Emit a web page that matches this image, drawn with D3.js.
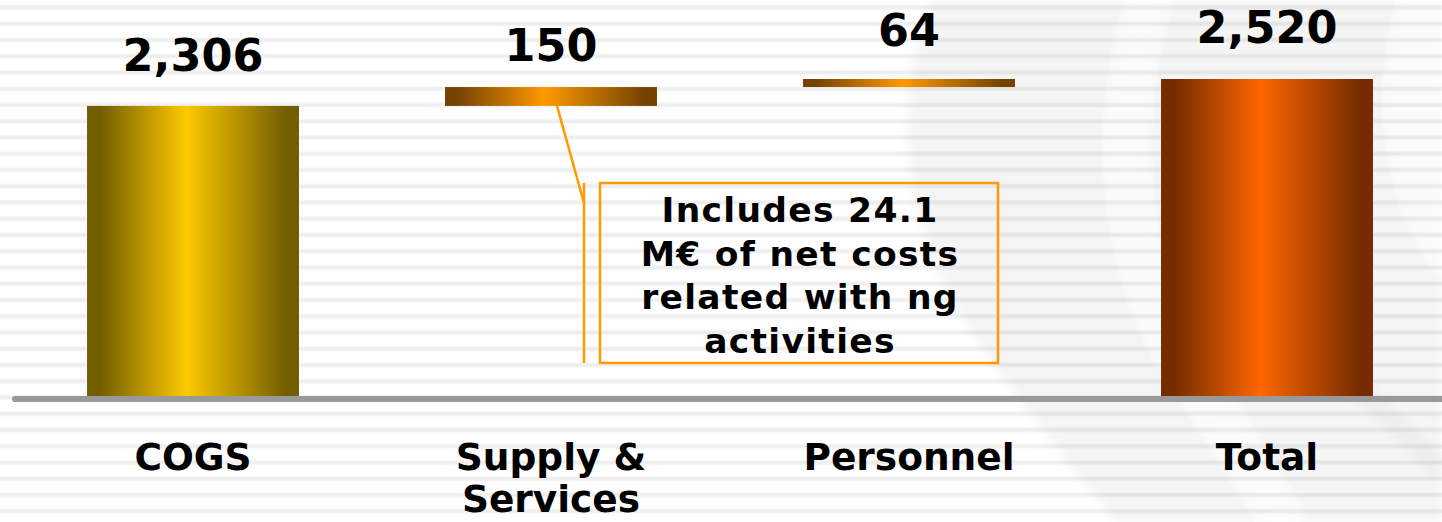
<!DOCTYPE html>
<html>
<head>
<meta charset="utf-8">
<script src="https://cdn.jsdelivr.net/npm/d3@7"></script>
<style>
  html, body { margin: 0; padding: 0; background: #ffffff; }
  svg { display: block; }
  text { font-family: "DejaVu Sans", Verdana, sans-serif; font-weight: bold; fill: #000; }
</style>
</head>
<body>
<svg id="chart" width="1442" height="522"></svg>
<script>
// ---- data ----
const categories = ["COGS", "Supply & Services", "Personnel", "Total"];
const values = [2306, 150, 64, 2520];
const barKinds = ["start", "step", "step", "total"];
const valueLabels = ["2,306", "150", "64", "2,520"];
const categoryLabelLines = [["COGS"], ["Supply &", "Services"], ["Personnel"], ["Total"]];
const annotationLines = ["Includes 24.1", "M€ of net costs", "related with ng", "activities"];
const annotatedCategory = "Supply & Services";

// ---- layout ----
const W = 1442, H = 522;
const baseY = 396, topY = 79;
const labelOffsets = [35, 26, 33, 36];
const palettes = [
  { edge: "#725e00", mid: "#fdc900" },
  { edge: "#744300", mid: "#ff9900" },
  { edge: "#744300", mid: "#ff9900" },
  { edge: "#752c00", mid: "#ff6600" }
];

// waterfall extents
let run = 0;
const bars = categories.map((c, i) => {
  let y0, y1;
  if (barKinds[i] === "total") { y0 = 0; y1 = values[i]; run = values[i]; }
  else { y0 = run; y1 = run + values[i]; run = y1; }
  return { cat: c, i, y0, y1, value: values[i] };
});

const svg = d3.select("#chart");
const defs = svg.append("defs");

// ---- background ----
svg.append("rect").attr("width", W).attr("height", H).attr("fill", "#ffffff");

defs.append("filter").attr("id", "soft").append("feGaussianBlur").attr("stdDeviation", 4);

// faint swirl decoration
const deco = svg.append("g").attr("filter", "url(#soft)");
deco.append("path")
  .attr("d", "M930,0 C893,110 895,230 990,360 C1040,430 1085,485 1117,522 L1442,522 L1442,0 Z")
  .attr("fill", "#000").attr("opacity", 0.04);
deco.append("path")
  .attr("d", "M1150,0 C1112,120 1118,270 1195,380 C1235,440 1262,490 1285,522")
  .attr("fill", "none").attr("stroke", "#fff").attr("stroke-width", 30).attr("opacity", 0.55);
deco.append("path")
  .attr("d", "M1405,0 C1378,110 1395,200 1442,268 L1442,0 Z")
  .attr("fill", "#fff").attr("opacity", 0.6);
deco.append("path")
  .attr("d", "M1330,360 C1370,400 1410,440 1442,470")
  .attr("fill", "none").attr("stroke", "#000").attr("stroke-width", 22).attr("opacity", 0.03);

// horizontal stripes
const stripe = defs.append("pattern")
  .attr("id", "stripes").attr("patternUnits", "userSpaceOnUse")
  .attr("width", 10).attr("height", 16.25).attr("y", 0);
stripe.append("rect").attr("x", 0).attr("y", 5).attr("width", 10).attr("height", 5)
  .attr("fill", "#000").attr("opacity", 0.03);
stripe.append("rect").attr("x", 0).attr("y", 6).attr("width", 10).attr("height", 3)
  .attr("fill", "#000").attr("opacity", 0.035);
svg.append("rect").attr("width", W).attr("height", H).attr("fill", "url(#stripes)");

// ---- scales ----
const x = d3.scaleBand().domain(categories).range([14, 1446])
  .paddingInner(0.408).paddingOuter(0.204);
const y = d3.scaleLinear().domain([0, d3.max(bars, d => d.y1)]).range([baseY, topY]);

// gradients
bars.forEach((b, i) => {
  const g = defs.append("linearGradient").attr("id", "grad" + i)
    .attr("x1", "0%").attr("x2", "100%").attr("y1", "0%").attr("y2", "0%");
  g.append("stop").attr("offset", "0%").attr("stop-color", palettes[i].edge);
  g.append("stop").attr("offset", "6%").attr("stop-color", palettes[i].edge);
  g.append("stop").attr("offset", "47%").attr("stop-color", palettes[i].mid);
  g.append("stop").attr("offset", "94%").attr("stop-color", palettes[i].edge);
  g.append("stop").attr("offset", "100%").attr("stop-color", palettes[i].edge);
});

// ---- bars ----
svg.append("g").selectAll("rect").data(bars).join("rect")
  .attr("x", d => x(d.cat))
  .attr("width", x.bandwidth())
  .attr("y", d => y(d.y1))
  .attr("height", d => y(d.y0) - y(d.y1))
  .attr("fill", (d, i) => `url(#grad${i})`);

// baseline axis line
svg.append("line")
  .attr("x1", 15).attr("x2", W + 10)
  .attr("y1", baseY + 3).attr("y2", baseY + 3)
  .attr("stroke", "#999999").attr("stroke-width", 6).attr("stroke-linecap", "round");

// value labels
svg.append("g").selectAll("text").data(bars).join("text")
  .attr("x", d => x(d.cat) + x.bandwidth() / 2)
  .attr("y", (d, i) => y(d.y1) - labelOffsets[i])
  .attr("text-anchor", "middle")
  .attr("font-size", 44.5)
  .text((d, i) => valueLabels[i]);

// category labels
const catG = svg.append("g").selectAll("text").data(bars).join("text")
  .attr("text-anchor", "middle")
  .attr("font-size", 37.5);
catG.selectAll("tspan").data((d, i) => categoryLabelLines[i].map(t => ({ t, cx: x(d.cat) + x.bandwidth() / 2 })))
  .join("tspan")
  .attr("x", d => d.cx)
  .attr("y", (d, j) => 470 + j * 42)
  .text(d => d.t);

// ---- annotation ----
const aBar = bars.find(b => b.cat === annotatedCategory);
const ax = x(aBar.cat) + x.bandwidth() / 2 + 6;
const ay = y(aBar.y0);
const orange = "#ff9900";
const bx = 584;
svg.append("line").attr("x1", ax).attr("y1", ay).attr("x2", bx).attr("y2", 203)
  .attr("stroke", orange).attr("stroke-width", 2.5);
svg.append("line").attr("x1", bx).attr("y1", 183).attr("x2", bx).attr("y2", 363)
  .attr("stroke", orange).attr("stroke-width", 2.5);
svg.append("rect").attr("x", 600).attr("y", 183).attr("width", 398).attr("height", 180)
  .attr("fill", "none").attr("stroke", orange).attr("stroke-width", 2.5);
svg.append("g").selectAll("text").data(annotationLines).join("text")
  .attr("x", 800)
  .attr("y", (d, j) => 222 + j * 43.7)
  .attr("text-anchor", "middle")
  .attr("font-size", 34.5)
  .attr("letter-spacing", 1.3)
  .text(d => d);
</script>
</body>
</html>
